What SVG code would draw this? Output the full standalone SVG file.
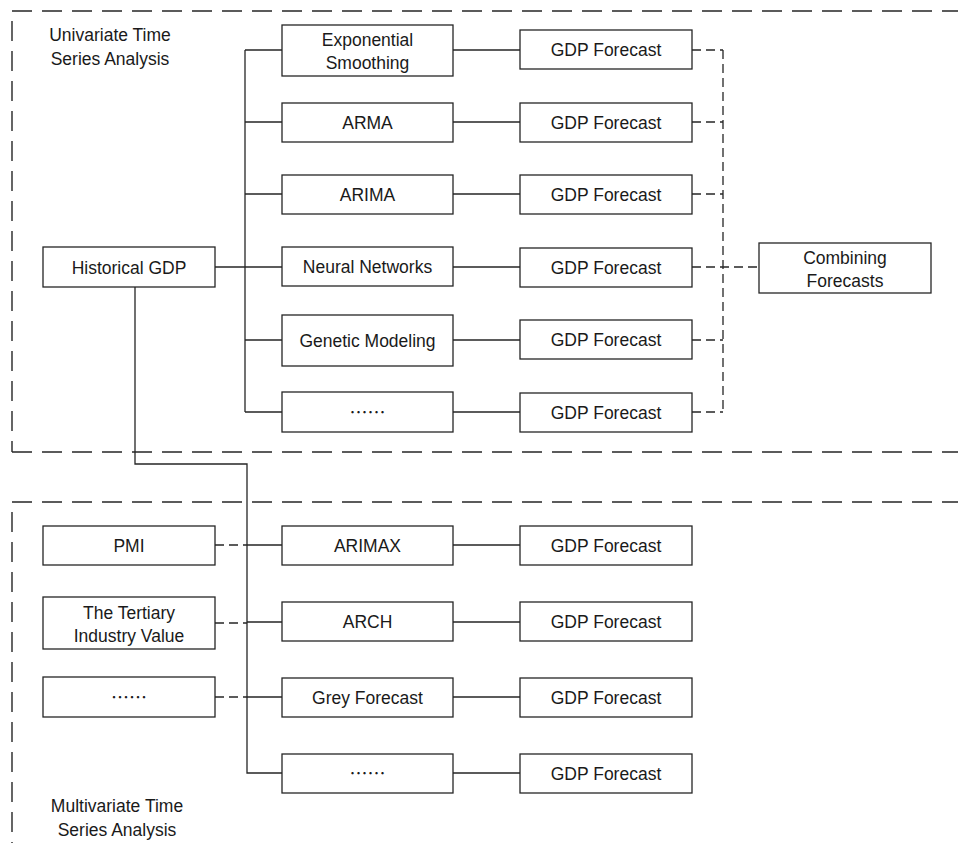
<svg xmlns="http://www.w3.org/2000/svg" width="958" height="843" viewBox="0 0 958 843">
  <style>
    .box { fill: #ffffff; stroke: #262626; stroke-width: 1.3; }
    .lbl { font-family: "Liberation Sans", Arial, sans-serif; font-size: 17.5px; fill: #1a1a1a; text-anchor: middle; }
    .dots { font-family: "Noto Sans CJK SC", "Liberation Sans", sans-serif; font-size: 18px; fill: #1a1a1a; text-anchor: middle; }
    .wire { fill: none; stroke: #262626; stroke-width: 1.3; }
    .dash { fill: none; stroke: #262626; stroke-width: 1.3; stroke-dasharray: 9 5; }
    .frame { fill: none; stroke: #262626; stroke-width: 1.4; stroke-dasharray: 20 10; }
  </style>

  <rect width="958" height="843" fill="#ffffff"/>

  <!-- region frames -->
  <g id="frames">
    <line class="frame" x1="12" y1="11" x2="958" y2="11"/>
    <line class="frame" x1="12" y1="452" x2="958" y2="452"/>
    <line class="frame" x1="12" y1="11" x2="12" y2="452" stroke-dashoffset="-10"/>
    <line class="frame" x1="12" y1="502" x2="958" y2="502"/>
    <line class="frame" x1="12" y1="502" x2="12" y2="843" stroke-dashoffset="-10"/>
    <text class="lbl" x="110" y="41">Univariate Time</text>
    <text class="lbl" x="110" y="65">Series Analysis</text>
    <text class="lbl" x="117" y="812">Multivariate Time</text>
    <text class="lbl" x="117" y="836">Series Analysis</text>
  </g>

  <!-- connectors -->
  <g id="connectors">
    <!-- univariate bus -->
    <path class="wire" d="M245 50V412"/>
    <path class="wire" d="M215 267H282"/>
    <path class="wire" d="M245 50H282M245 122H282M245 194H282M245 340H282M245 412H282"/>
    <path class="wire" d="M453 50H520M453 122H520M453 194H520M453 267H520M453 340H520M453 412H520"/>
    <!-- forecast collection -->
    <path class="dash" d="M723 50V412"/>
    <path class="dash" d="M692 50H723M692 122H723M692 194H723M692 340H723M692 412H723"/>
    <path class="dash" d="M692 267H759"/>
    <!-- multivariate bus -->
    <path class="wire" d="M135 287V464H247V773H282"/>
    <path class="wire" d="M247 545H282M247 622H282M247 697H282"/>
    <path class="dash" d="M215 545H247M215 623H247M215 697H247"/>
    <path class="wire" d="M453 545H520M453 622H520M453 697H520M453 773H520"/>
  </g>

  <!-- univariate nodes -->
  <g id="historical-gdp">
    <rect class="box" x="43" y="247" width="172" height="40"/>
    <text class="lbl" x="129" y="274">Historical GDP</text>
  </g>
  <g id="exp-smoothing">
    <rect class="box" x="282" y="25" width="171" height="51"/>
    <text class="lbl" x="367.5" y="46">Exponential</text>
    <text class="lbl" x="367.5" y="69">Smoothing</text>
  </g>
  <g id="arma">
    <rect class="box" x="282" y="103" width="171" height="39"/>
    <text class="lbl" x="367.5" y="129">ARMA</text>
  </g>
  <g id="arima">
    <rect class="box" x="282" y="175" width="171" height="39"/>
    <text class="lbl" x="367.5" y="201">ARIMA</text>
  </g>
  <g id="neural-networks">
    <rect class="box" x="282" y="247" width="171" height="39"/>
    <text class="lbl" x="367.5" y="273">Neural Networks</text>
  </g>
  <g id="genetic-modeling">
    <rect class="box" x="282" y="315" width="171" height="51"/>
    <text class="lbl" x="367.5" y="347">Genetic Modeling</text>
  </g>
  <g id="uni-more">
    <rect class="box" x="282" y="392" width="171" height="40"/>
    <text class="dots" x="367.5" y="419">……</text>
  </g>

  <g id="gdp-u1"><rect class="box" x="520" y="30" width="172" height="39"/><text class="lbl" x="606" y="56">GDP Forecast</text></g>
  <g id="gdp-u2"><rect class="box" x="520" y="103" width="172" height="39"/><text class="lbl" x="606" y="129">GDP Forecast</text></g>
  <g id="gdp-u3"><rect class="box" x="520" y="175" width="172" height="39"/><text class="lbl" x="606" y="201">GDP Forecast</text></g>
  <g id="gdp-u4"><rect class="box" x="520" y="248" width="172" height="39"/><text class="lbl" x="606" y="274">GDP Forecast</text></g>
  <g id="gdp-u5"><rect class="box" x="520" y="320" width="172" height="39"/><text class="lbl" x="606" y="346">GDP Forecast</text></g>
  <g id="gdp-u6"><rect class="box" x="520" y="393" width="172" height="39"/><text class="lbl" x="606" y="419">GDP Forecast</text></g>

  <g id="combining-forecasts">
    <rect class="box" x="759" y="243" width="172" height="50"/>
    <text class="lbl" x="845" y="264">Combining</text>
    <text class="lbl" x="845" y="287">Forecasts</text>
  </g>

  <!-- multivariate nodes -->
  <g id="pmi">
    <rect class="box" x="43" y="526" width="172" height="39"/>
    <text class="lbl" x="129" y="552">PMI</text>
  </g>
  <g id="tertiary-industry">
    <rect class="box" x="43" y="597" width="172" height="52"/>
    <text class="lbl" x="129" y="619">The Tertiary</text>
    <text class="lbl" x="129" y="642">Industry Value</text>
  </g>
  <g id="exog-more">
    <rect class="box" x="43" y="677" width="172" height="40"/>
    <text class="dots" x="129" y="704">……</text>
  </g>

  <g id="arimax">
    <rect class="box" x="282" y="526" width="171" height="39"/>
    <text class="lbl" x="367.5" y="552">ARIMAX</text>
  </g>
  <g id="arch">
    <rect class="box" x="282" y="602" width="171" height="39"/>
    <text class="lbl" x="367.5" y="628">ARCH</text>
  </g>
  <g id="grey-forecast">
    <rect class="box" x="282" y="678" width="171" height="39"/>
    <text class="lbl" x="367.5" y="704">Grey Forecast</text>
  </g>
  <g id="multi-more">
    <rect class="box" x="282" y="754" width="171" height="39"/>
    <text class="dots" x="367.5" y="780">……</text>
  </g>

  <g id="gdp-m1"><rect class="box" x="520" y="526" width="172" height="39"/><text class="lbl" x="606" y="552">GDP Forecast</text></g>
  <g id="gdp-m2"><rect class="box" x="520" y="602" width="172" height="39"/><text class="lbl" x="606" y="628">GDP Forecast</text></g>
  <g id="gdp-m3"><rect class="box" x="520" y="678" width="172" height="39"/><text class="lbl" x="606" y="704">GDP Forecast</text></g>
  <g id="gdp-m4"><rect class="box" x="520" y="754" width="172" height="39"/><text class="lbl" x="606" y="780">GDP Forecast</text></g>
</svg>
